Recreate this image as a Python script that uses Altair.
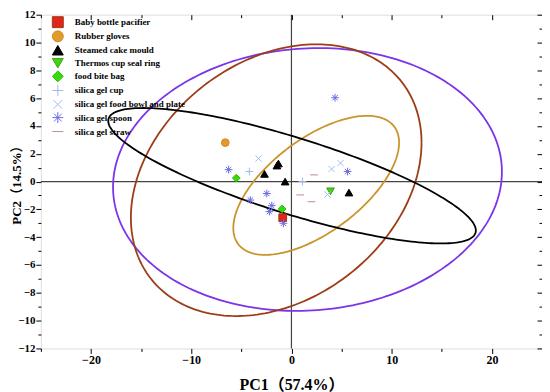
import numpy as np
import pandas as pd
import altair as alt

# ---------------- data ----------------
categories = [
    "Baby bottle pacifier", "Rubber gloves", "Steamed cake mould",
    "Thermos cup seal ring", "food bite bag", "silica gel cup",
    "silica gel food bowl and plate", "silica gel spoon", "silica gel straw",
]
fill_colors = ["#e3241c", "#e39a2d", "#000000", "#48d01a", "#36dc0a",
               "transparent", "transparent", "transparent", "transparent"]
stroke_colors = ["#9a3a12", "#d08a20", "#000000", "#36a814", "#2cb808",
                 "#9fb8ea", "#a4bcf0", "#6a6ae6", "#c48a8a"]
shapes = [
    "square", "circle", "triangle-up", "triangle-down", "diamond",
    "M-1,0L1,0M0,-1L0,1",
    "M-0.8,-0.8L0.8,0.8M-0.8,0.8L0.8,-0.8",
    "M-1,0L1,0M0,-1L0,1M-0.7,-0.7L0.7,0.7M-0.7,0.7L0.7,-0.7",
    "M-1,0L1,0",
]

pc1_pacifier = [-0.87]
pc2_pacifier = [-2.6]
pc1_gloves = [-6.6]
pc2_gloves = [2.8]
pc1_cake = [-1.3, -1.45, -2.69, -0.63, 5.74]
pc2_cake = [1.3, 1.15, 0.55, 0.0, -0.79]
pc1_thermos = [3.9]
pc2_thermos = [-0.7]
pc1_bag = [-5.5, -0.93]
pc2_bag = [0.25, -1.97]
pc1_cup = [-4.2, 1.1]
pc2_cup = [0.72, 0.0]
pc1_bowl = [-3.28, 4.0, 4.9, 3.6]
pc2_bowl = [1.66, 0.9, 1.33, -0.93]
pc1_spoon = [-6.27, -2.46, -4.1, -1.96, -2.2, 5.6, 4.35, -0.8]
pc2_spoon = [0.86, -0.86, -1.33, -1.73, -2.16, 0.72, 6.03, -3.0]
pc1_straw = [2.26, 0.87, 2.0]
pc2_straw = [0.48, -0.96, -1.45]

pc1_all = [pc1_pacifier, pc1_gloves, pc1_cake, pc1_thermos, pc1_bag,
           pc1_cup, pc1_bowl, pc1_spoon, pc1_straw]
pc2_all = [pc2_pacifier, pc2_gloves, pc2_cake, pc2_thermos, pc2_bag,
           pc2_cup, pc2_bowl, pc2_spoon, pc2_straw]

# confidence ellipses: centre, half extents in x / y, y-offset at the rightmost point
ell_names = ["purple", "brown", "gold", "black"]
ell_cx = [1.6, -1.52, 2.47, 0.06]
ell_cy = [0.15, 0.1, -0.27, 0.42]
ell_w = [19.4, 14.5, 8.27, 18.34]
ell_h = [9.45, 9.77, 5.0, 4.87]
ell_k = [0.55, 2.7, 3.07, -3.94]
ell_colors = ["#7b35e8", "#9c3d17", "#c9952b", "#000000"]

# ---------------- frames ----------------
rows = []
for cat, xs_, ys_ in zip(categories, pc1_all, pc2_all):
    for a, b in zip(xs_, ys_):
        rows.append({"sample": cat, "PC1": a, "PC2": b})
pts = pd.DataFrame(rows)

t = np.linspace(0, 2 * np.pi, 241)
erows = []
for n, cx, cy, w, h, k in zip(ell_names, ell_cx, ell_cy, ell_w, ell_h, ell_k):
    ex = cx + w * np.cos(t)
    ey = cy + k * np.cos(t) + np.sqrt(h * h - k * k) * np.sin(t)
    for i, (a, b) in enumerate(zip(ex, ey)):
        erows.append({"grp": n, "i": i, "PC1": a, "PC2": b})
ell = pd.DataFrame(erows)

FONT = "Liberation Serif, Noto Sans CJK SC"
xs = alt.Scale(domain=[-25, 25], nice=False, zero=False)
ys = alt.Scale(domain=[-12, 12], nice=False, zero=False)
W, H = 503, 335

xticks = list(range(-25, 26, 5))
yticks = list(range(-12, 13, 1))
x_tick_size = {"condition": {"test": "datum.value % 10 === 0", "value": 5}, "value": 3}
y_tick_size = {"condition": {"test": "datum.value % 2 === 0", "value": 5}, "value": 3}

x_main = alt.Axis(values=xticks, labelExpr="datum.value % 10 === 0 ? datum.label : ''",
                  tickSize=x_tick_size, tickColor="#000", domain=False, grid=False,
                  labelFont=FONT, labelFontWeight="bold", labelFontSize=12,
                  labelColor="#000", labelPadding=1, labelFlush=False,
                  title="PC1（57.4%）", titleFont=FONT, titleFontSize=16,
                  titleFontWeight="bold", titleColor="#000", titleY=41,
                  titleBaseline="alphabetic")
y_main = alt.Axis(values=yticks, labelExpr="datum.value % 2 === 0 ? datum.label : ''",
                  tickSize=y_tick_size, tickColor="#000", domain=False, grid=False,
                  labelFont=FONT, labelFontWeight="bold", labelFontSize=11,
                  labelColor="#000", labelPadding=1, labelFlush=False,
                  title="PC2（14.5%）", titleFont=FONT, titleFontSize=13,
                  titleFontWeight="bold", titleColor="#000", titleX=-20,
                  titleY=H / 2, titleBaseline="alphabetic")
x_top = alt.Axis(values=xticks, orient="bottom", offset=-H, labels=False, title=None,
                 tickSize=x_tick_size, tickColor="#000", domain=False, grid=False)
y_right = alt.Axis(values=yticks, orient="left", offset=-W, labels=False, title=None,
                   tickSize=y_tick_size, tickColor="#000", domain=False, grid=False)

lines = alt.Chart(ell).mark_line(strokeWidth=1.8).encode(
    x=alt.X("PC1:Q", scale=xs, axis=x_main),
    y=alt.Y("PC2:Q", scale=ys, axis=y_main),
    detail="grp:N",
    order="i:Q",
    color=alt.Color("grp:N", scale=alt.Scale(domain=ell_names, range=ell_colors), legend=None),
)

zx = alt.Chart(pd.DataFrame({"v": [0]})).mark_rule(color="#444", strokeWidth=1.2).encode(
    x=alt.X("v:Q", scale=xs, axis=None))
zy = alt.Chart(pd.DataFrame({"v": [0]})).mark_rule(color="#444", strokeWidth=1.2).encode(
    y=alt.Y("v:Q", scale=ys, axis=None))

leg = alt.Legend(title=None, orient="none", legendX=11, legendY=1.5, padding=0,
                 symbolSize=120, symbolStrokeWidth=1, rowPadding=-1.8,
                 labelFont=FONT, labelFontWeight="bold", labelFontSize=9,
                 labelColor="#000", labelOffset=11, labelLimit=300)

points = alt.Chart(pts).mark_point(filled=True, size=60, strokeWidth=1, opacity=1).encode(
    x=alt.X("PC1:Q", scale=xs, axis=x_top),
    y=alt.Y("PC2:Q", scale=ys, axis=y_right),
    fill=alt.Fill("sample:N", scale=alt.Scale(domain=categories, range=fill_colors), legend=leg, sort=categories),
    stroke=alt.Stroke("sample:N", scale=alt.Scale(domain=categories, range=stroke_colors), legend=leg, sort=categories),
    shape=alt.Shape("sample:N", scale=alt.Scale(domain=categories, range=shapes), legend=leg, sort=categories),
)

chart = alt.layer(zx, zy, lines, points).resolve_axis(
    x="independent", y="independent"
).properties(
    width=W, height=H, autosize="none",
    padding={"left": 33, "top": 6, "right": 0, "bottom": 43},
).configure_view(stroke="#000", strokeWidth=1).configure(background="white")

chart.save("out.html", embed_options={"renderer": "svg", "actions": False})
